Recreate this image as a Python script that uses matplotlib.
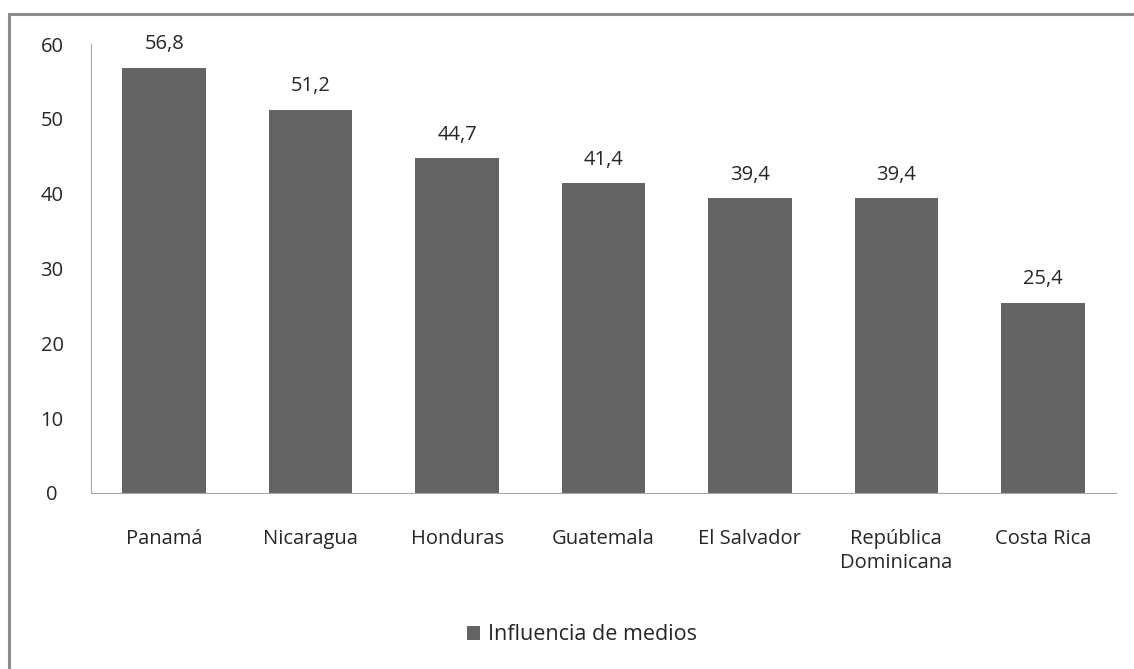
import matplotlib.pyplot as plt
from matplotlib.patches import Rectangle

countries = ["Panamá", "Nicaragua", "Honduras", "Guatemala", "El Salvador",
             "República\nDominicana", "Costa Rica"]
values = [56.8, 51.2, 44.7, 41.4, 39.4, 39.4, 25.4]
yticks = [0, 10, 20, 30, 40, 50, 60]
series_name = "Influencia de medios"

BAR_COLOR = "#646464"
AXIS_COLOR = "#a6a6a6"
TEXT_COLOR = "#262626"
FS = 14.5

plt.rcParams["font.family"] = ["Open Sans", "DejaVu Sans"]

fig = plt.figure(figsize=(11.34, 6.69), dpi=100)
ax = fig.add_axes([91 / 1134, 1 - 493 / 669, (1116 - 91) / 1134, (493 - 44) / 669])

x = range(len(countries))
bars = ax.bar(x, values, width=0.57, color=BAR_COLOR, label=series_name)
for xi, v in zip(x, values):
    ax.text(xi, v + 1.8, f"{v:.1f}".replace(".", ","), ha="center", va="bottom",
            fontsize=FS, color=TEXT_COLOR)

ax.set_xlim(-0.5, len(countries) - 0.5)
ax.set_ylim(0, 60)
ax.set_yticks(yticks)
ax.set_xticks(list(x))
ax.set_xticklabels(countries, fontsize=FS, color=TEXT_COLOR, linespacing=1.25)
ax.tick_params(axis="y", length=0, pad=28, labelsize=FS, labelcolor=TEXT_COLOR)
ax.tick_params(axis="x", length=0, pad=26)
for lbl in ax.get_yticklabels():
    lbl.set_horizontalalignment("center")

for s in ["top", "right"]:
    ax.spines[s].set_visible(False)
ax.spines["left"].set_color(AXIS_COLOR)
ax.spines["bottom"].set_color(AXIS_COLOR)

fig.legend(handles=[bars], labels=[series_name], loc="center",
           bbox_to_anchor=(582 / 1134, 1 - 635 / 669), frameon=False,
           fontsize=15.5, handlelength=0.6, handleheight=0.6, handletextpad=0.35,
           labelcolor=TEXT_COLOR)

# outer chart border
fig.patches.append(Rectangle((9 / 1134, -0.1), 1.2, 1 - 14 / 669 + 0.1,
                             transform=fig.transFigure, fill=False,
                             edgecolor="#8c8c8c", linewidth=2.2))

fig.savefig("out.png", dpi=100)
